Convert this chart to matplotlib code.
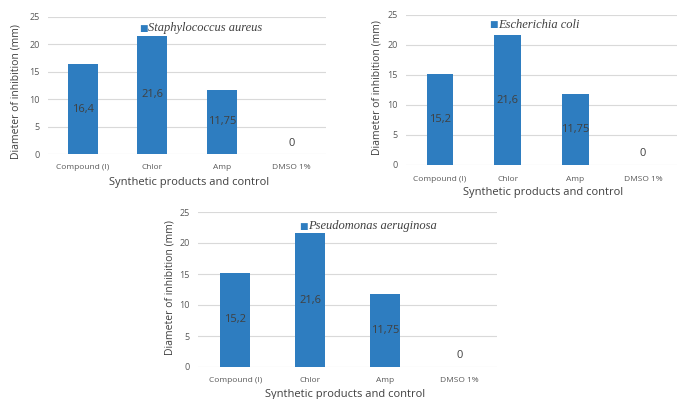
import matplotlib.pyplot as plt

categories = ["Compound (I)", "Chlor", "Amp", "DMSO 1%"]
staph_vals = [16.4, 21.6, 11.75, 0]
ecoli_vals = [15.2, 21.6, 11.75, 0]
pseudo_vals = [15.2, 21.6, 11.75, 0]
value_labels_staph = ["16,4", "21,6", "11,75", "0"]
value_labels_ecoli = ["15,2", "21,6", "11,75", "0"]
value_labels_pseudo = ["15,2", "21,6", "11,75", "0"]
y_ticks = [0, 5, 10, 15, 20, 25]

BLUE = "#2E7DC0"
GRID = "#D9D9D9"
TXT = "#595959"
FONT = "Open Sans"

W, H = 682, 399
fig = plt.figure(figsize=(W / 100, H / 100), dpi=100)


def px_axes(x0, x1, ytop, ybot):
    return fig.add_axes([x0 / W, 1 - ybot / H, (x1 - x0) / W, (ybot - ytop) / H])


def draw(ax, vals, labels, name, bar_w, leg, ylab, xlab, xpad):
    ax.bar(range(len(categories)), vals, width=bar_w, color=BLUE, zorder=2)
    ax.set_xlim(-0.5, len(categories) - 0.5)
    ax.set_ylim(0, 25)
    ax.set_yticks(y_ticks)
    ax.yaxis.grid(True, color=GRID, linewidth=0.8, zorder=0)
    ax.set_xticks(range(len(categories)))
    ax.set_xticklabels(categories, fontsize=6, color=TXT, family=FONT)
    for t in ax.get_yticklabels():
        t.set_fontsize(6.5)
        t.set_color(TXT)
        t.set_family(FONT)
    ax.tick_params(axis="x", length=0, pad=xpad)
    ax.tick_params(axis="y", length=0, pad=6)
    for s in ax.spines.values():
        s.set_visible(False)
    for i, (v, lab) in enumerate(zip(vals, labels)):
        ax.text(i, max(v / 2, 1.9), lab, ha="center", va="center",
                fontsize=8, color="#404040", family=FONT, zorder=3)
    # axis titles placed in figure pixels
    fig.text(ylab[0] / W, 1 - ylab[1] / H, "Diameter of inhibition (mm)",
             rotation=90, fontsize=7.5, color="#404040", family=FONT,
             ha="center", va="center")
    fig.text(xlab[0] / W, 1 - xlab[1] / H, "Synthetic products and control",
             fontsize=8, color="#404040", family=FONT, ha="center", va="center")
    # legend
    fig.text(leg[0] / W, 1 - leg[1] / H, "\u25A0", fontsize=6.5, color=BLUE,
             ha="left", va="center")
    fig.text((leg[0] + 9) / W, 1 - leg[1] / H, name, fontsize=9, style="italic",
             family="Liberation Serif", color="#404040", ha="left", va="center")


ax1 = px_axes(48, 326, 17, 154)
draw(ax1, staph_vals, value_labels_staph, "Staphylococcus aureus", 0.43,
     (139, 28), (16, 92), (189, 183), 7)

ax2 = px_axes(406, 677, 15, 165)
draw(ax2, ecoli_vals, value_labels_ecoli, "Escherichia coli", 0.39,
     (489, 25), (377, 88), (543, 193), 8)

ax3 = px_axes(198, 497, 212, 367)
draw(ax3, pseudo_vals, value_labels_pseudo, "Pseudomonas aeruginosa", 0.40,
     (299, 226), (170, 288), (345, 395), 7)

fig.savefig("out.png", dpi=100, facecolor="white")
